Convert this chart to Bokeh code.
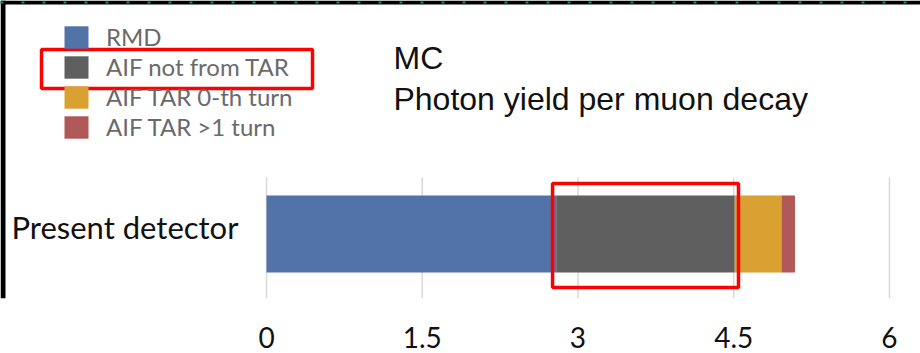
from bokeh.plotting import figure
from bokeh.models import Range1d, Legend, LegendItem, Label, BoxAnnotation, FixedTicker, Span
from bokeh.core.properties import value
from bokeh.embed import file_html
from bokeh.resources import INLINE

# Data
categories = ["Present detector"]
series = ["RMD", "AIF not from TAR", "AIF TAR 0-th turn", "AIF TAR >1 turn"]
rmd = [2.79]
aif_not_tar = [1.72]
aif_tar_0 = [0.45]
aif_tar_1 = [0.13]
x_ticks = [0, 1.5, 3, 4.5, 6]
tick_labels = ["0", "1.5", "3", "4.5", "6"]
colors = ["#5273a8", "#5f5f5f", "#d9a032", "#b05757"]

cat_pos = list(range(len(categories)))

X0, X1 = -2.562, 6.299
Y0, Y1 = -0.536, 1.941
p = figure(width=920, height=353, x_range=Range1d(X0, X1), y_range=Range1d(Y0, Y1),
           output_backend="svg", toolbar_location=None,
           min_border_left=0, min_border_right=0, min_border_top=0, min_border_bottom=55)
p.outline_line_color = None
p.background_fill_color = "white"
p.border_fill_color = "white"
p.yaxis.visible = False
p.xgrid.grid_line_color = None
p.ygrid.grid_line_color = None

# grid lines at the tick positions (only within the bar area)
p.segment(x0=x_ticks, x1=x_ticks, y0=[Y0] * len(x_ticks), y1=[0.47] * len(x_ticks),
          line_color="#d9d9d9", line_width=1.5)

data = dict(pos=cat_pos, s0=rmd, s1=aif_not_tar, s2=aif_tar_0, s3=aif_tar_1)
rs = p.hbar_stack(["s0", "s1", "s2", "s3"], y="pos", height=0.64, color=colors, source=data,
                  line_color=None)

# category label
p.text(x=[-0.27] * len(categories), y=[c + 0.055 for c in cat_pos], text=categories,
       text_align="right", text_baseline="middle", text_font=value("Lato"),
       text_font_size="31px", text_color="#111111")

p.xaxis.ticker = FixedTicker(ticks=x_ticks)
p.xaxis.major_label_overrides = {t: l for t, l in zip(x_ticks, tick_labels)}
p.xaxis.axis_line_color = None
p.xaxis.major_tick_line_color = None
p.xaxis.minor_tick_line_color = None
p.xaxis.major_label_text_font = "Lato"
p.xaxis.major_label_text_font_size = "28px"
p.xaxis.major_label_text_color = "#111111"
p.xaxis.major_label_standoff = 22

legend = Legend(items=[LegendItem(label=s, renderers=[r]) for s, r in zip(series, rs)],
                location=(61, 157), orientation="vertical",
                glyph_width=30, glyph_height=28, label_height=28, spacing=1,
                label_standoff=15, padding=0, margin=0,
                label_text_font="Lato", label_text_font_size="24px", label_text_color="#6a6a6a",
                border_line_color=None, background_fill_alpha=0)
p.add_layout(legend, "center")

p.add_layout(Label(x=1.223, y=1.463, text="MC", text_baseline="middle",
                   text_font="Liberation Sans", text_font_size="32px", text_color="#111111"))
p.add_layout(Label(x=1.223, y=1.122, text="Photon yield per muon decay", text_baseline="middle",
                   text_font="Liberation Sans", text_font_size="32px", text_color="#111111"))

# highlight boxes
p.add_layout(BoxAnnotation(left=-2.167, right=0.443, top=1.534, bottom=1.209,
                           fill_alpha=0, line_alpha=1, line_color="#ff0000", line_width=3.5))
p.add_layout(BoxAnnotation(left=rmd[0] - 0.035, right=rmd[0] + aif_not_tar[0] + 0.036,
                           top=0.42, bottom=-0.445, fill_alpha=0, line_alpha=1,
                           line_color="#ff0000", line_width=3.5))

# dark screenshot frame at top and left edges
p.add_layout(BoxAnnotation(left=X0, right=X1, top=Y1, bottom=Y1 - 4 / 120.3,
                           fill_color="black", fill_alpha=1, line_color=None))
p.add_layout(BoxAnnotation(left=X0, right=X0 + 5 / 103.83, top=Y1, bottom=Y0,
                           fill_color="black", fill_alpha=1, line_color=None))
p.add_layout(Span(location=Y1 - 2 / 120.3, dimension="width", line_color="#1a8a74",
                  line_width=2, line_dash="3 18"))

html = file_html(p, INLINE)
open("out.html", "w").write(html)
